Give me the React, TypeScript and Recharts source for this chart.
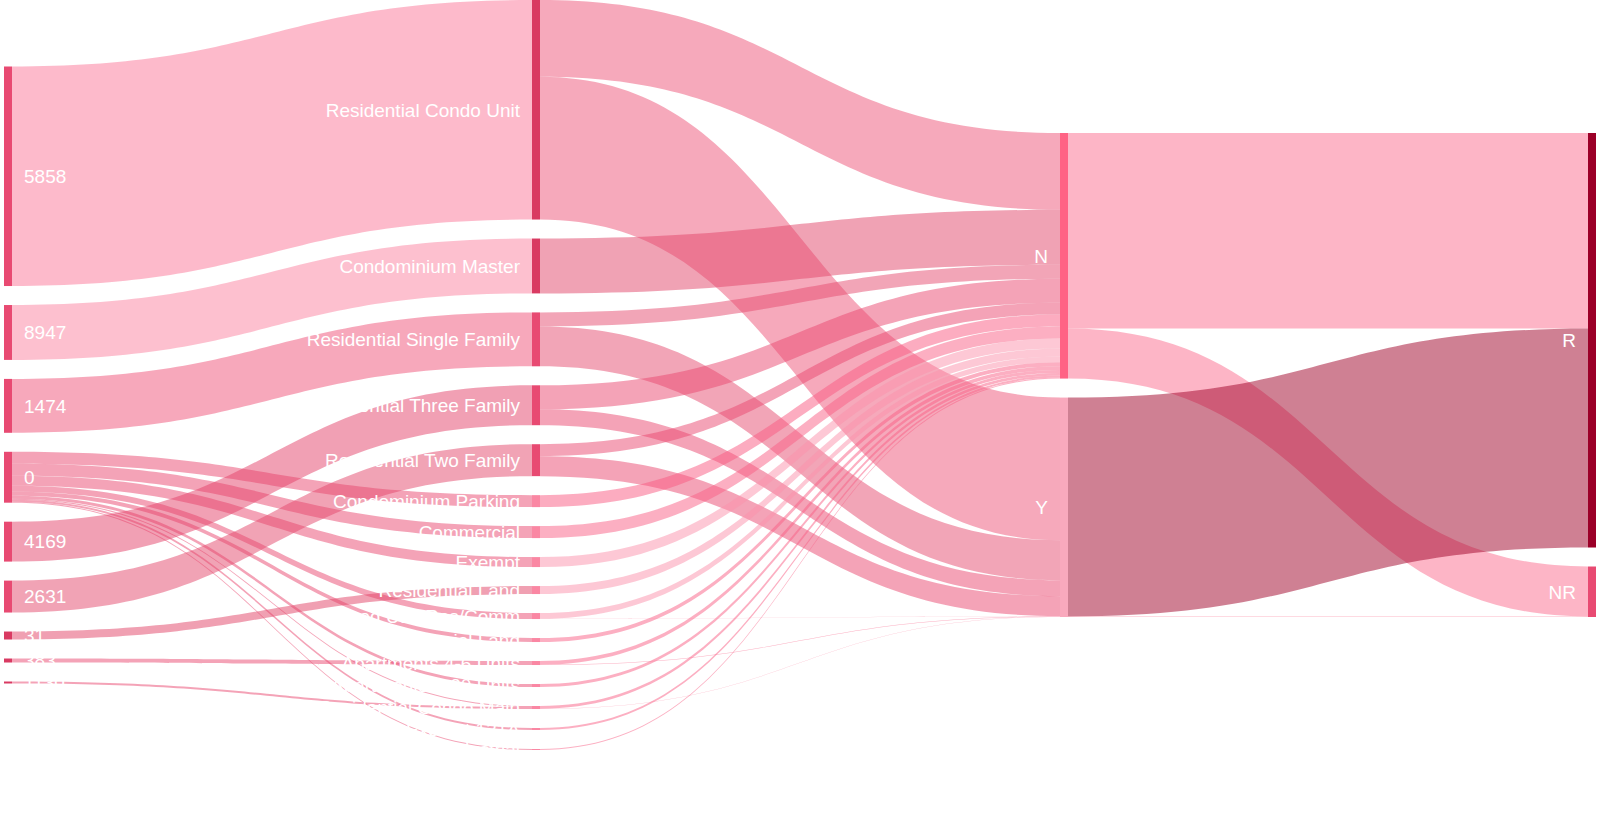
import React from 'react';
import { Sankey } from 'recharts';

// columns of the flow, top to bottom
const sources = ['5858', '8947', '1474', '0', '4169', '2631', '31', '383', '1130'];
const landUses = [
  'Residential Condo Unit',
  'Condominium Master',
  'Residential Single Family',
  'Residential Three Family',
  'Residential Two Family',
  'Condominium Parking',
  'Commercial',
  'Exempt',
  'Residential Land',
  'Mixed Use Res/Comm',
  'Commercial Land',
  'Apartments 4-6 Units',
  'Apartments 7-30 Units',
  'Residential Condo Main',
  'Exempt 121A',
  'Industrial',
];
const flags = ['N', 'Y'];
const classes = ['R', 'NR'];

type Flow = [string, string, number];

const sourceFlows: Flow[] = [
  ['5858', 'Residential Condo Unit', 220],
  ['8947', 'Condominium Master', 55],
  ['1474', 'Residential Single Family', 54],
  ['0', 'Condominium Parking', 12],
  ['0', 'Commercial', 12],
  ['0', 'Exempt', 10],
  ['0', 'Mixed Use Res/Comm', 6],
  ['0', 'Commercial Land', 4],
  ['0', 'Apartments 7-30 Units', 3],
  ['0', 'Residential Condo Main', 1],
  ['0', 'Exempt 121A', 2],
  ['0', 'Industrial', 1],
  ['4169', 'Residential Three Family', 40],
  ['2631', 'Residential Two Family', 32],
  ['31', 'Residential Land', 8],
  ['383', 'Apartments 4-6 Units', 4],
  ['1130', 'Residential Condo Main', 2],
];

const flagFlows: Flow[] = [
  ['Residential Condo Unit', 'N', 77],
  ['Residential Condo Unit', 'Y', 143],
  ['Condominium Master', 'N', 55],
  ['Residential Single Family', 'N', 14],
  ['Residential Single Family', 'Y', 40],
  ['Residential Three Family', 'N', 24],
  ['Residential Three Family', 'Y', 16],
  ['Residential Two Family', 'N', 12],
  ['Residential Two Family', 'Y', 20],
  ['Condominium Parking', 'N', 12],
  ['Commercial', 'N', 12],
  ['Exempt', 'N', 10],
  ['Residential Land', 'N', 8],
  ['Mixed Use Res/Comm', 'N', 5.7],
  ['Mixed Use Res/Comm', 'Y', 0.3],
  ['Commercial Land', 'N', 4],
  ['Apartments 4-6 Units', 'N', 3.7],
  ['Apartments 4-6 Units', 'Y', 0.3],
  ['Apartments 7-30 Units', 'N', 3],
  ['Residential Condo Main', 'N', 2.7],
  ['Residential Condo Main', 'Y', 0.3],
  ['Exempt 121A', 'N', 2],
  ['Industrial', 'N', 1],
];

const classFlows: Flow[] = [
  ['N', 'R', 196],
  ['N', 'NR', 50.1],
  ['Y', 'R', 219.4],
  ['Y', 'NR', 0.5],
];

const nodeColors: Record<string, string> = {
  '5858': '#e84a72', '8947': '#e84a72', '1474': '#e84a72', '0': '#e84a72',
  '4169': '#e84a72', '2631': '#e84a72', '31': '#d93a62', '383': '#d93a62', '1130': '#d93a62',
  'Residential Condo Unit': '#d93a62',
  'Condominium Master': '#d93a62',
  'Residential Single Family': '#e84a72',
  'Residential Three Family': '#e84a72',
  'Residential Two Family': '#e84a72',
  N: '#ff6385', Y: '#f9a9bd', R: '#9b0028', NR: '#e84a72',
};
const smallNodeColor = '#fa87a3';

// link fill colours (drawn at half opacity)
const linkColors: Record<string, string> = {
  '5858': '#fb7597', '8947': '#fb819f', '1474': '#ef5177', '0': '#e9476f',
  '4169': '#e34169', '2631': '#e3476b', '31': '#e14165', '383': '#e9476f', '1130': '#e9476f',
  'Residential Condo Unit': '#ee5377',
  'Condominium Master': '#e14569',
  'Residential Single Family': '#e54b6f',
  'Residential Three Family': '#e9476f',
  'Residential Two Family': '#e9476f',
  'Condominium Parking': '#f95981',
  Commercial: '#f95f85',
  Exempt: '#fb91ab',
  'Residential Land': '#fb91ab',
  'Mixed Use Res/Comm': '#fb91ab',
  N: '#fb6b8d',
  Y: '#fb6b8d',
};
const linkOverride: Record<string, string> = { 'Y>R': '#9f0127' };

const columns = [sources, landUses, flags, classes];
const nodeNames = columns.flat();
const flows = [...sourceFlows, ...flagFlows, ...classFlows];

const data = {
  nodes: nodeNames.map((name) => ({ name })),
  links: flows.map(([from, to, value]) => ({
    source: nodeNames.indexOf(from),
    target: nodeNames.indexOf(to),
    value,
  })),
};

const W = 1600;
const H = 840;
const LAYOUT_H = 750;
const PAD = 19;

// every column is centred vertically, as in the original chart
const nodeValue = (name: string) => {
  const inSum = flows.filter((f) => f[1] === name).reduce((s, f) => s + f[2], 0);
  const outSum = flows.filter((f) => f[0] === name).reduce((s, f) => s + f[2], 0);
  return Math.max(inSum, outSum);
};
const colSums = columns.map((col) => col.reduce((s, n) => s + nodeValue(n), 0));
const ky = Math.min(...columns.map((col, i) => (LAYOUT_H - (col.length - 1) * PAD) / colSums[i]));
const offsets = columns.map((col, i) => (LAYOUT_H - (colSums[i] * ky + (col.length - 1) * PAD)) / 2);

const FONT = "'Liberation Sans', Arial, sans-serif";

function FlowNode(props: any) {
  const { x, y, width, height, payload } = props;
  const top = y + (offsets[payload.depth] || 0);
  const first = payload.depth === 0;
  return (
    <g>
      <rect x={x} y={top} width={width} height={Math.max(height, 0.5)} fill={nodeColors[payload.name] || smallNodeColor} />
      <text
        x={first ? x + width + 12 : x - 12}
        y={top + height / 2}
        dy="0.36em"
        textAnchor={first ? 'start' : 'end'}
        fill="#ffffff"
        fontSize={19}
        fontFamily={FONT}
      >
        {payload.name}
      </text>
    </g>
  );
}

function FlowLink(props: any) {
  const { sourceX, targetX, sourceY, targetY, sourceControlX, targetControlX, linkWidth, payload } = props;
  const s = sourceY + (offsets[payload.source.depth] || 0);
  const t = targetY + (offsets[payload.target.depth] || 0);
  const h = linkWidth / 2;
  const key = `${payload.source.name}>${payload.target.name}`;
  const color = linkOverride[key] || linkColors[payload.source.name] || '#f95f85';
  const d = `M${sourceX},${s - h} C${sourceControlX},${s - h} ${targetControlX},${t - h} ${targetX},${t - h} L${targetX},${t + h} C${targetControlX},${t + h} ${sourceControlX},${s + h} ${sourceX},${s + h} Z`;
  return <path d={d} fill={color} fillOpacity={0.5} stroke="none" />;
}

export default function App() {
  return (
    <div style={{ position: 'fixed', left: 0, top: 0, width: W, height: H, background: '#ffffff' }}>
      <Sankey
        width={W}
        height={H}
        data={data}
        nodeWidth={8}
        nodePadding={PAD}
        iterations={0}
        linkCurvature={0.5}
        margin={{ top: 0, right: 4, bottom: H - LAYOUT_H, left: 4 }}
        node={(p: any) => <FlowNode {...p} />}
        link={(p: any) => <FlowLink {...p} />}
      />
    </div>
  );
}
